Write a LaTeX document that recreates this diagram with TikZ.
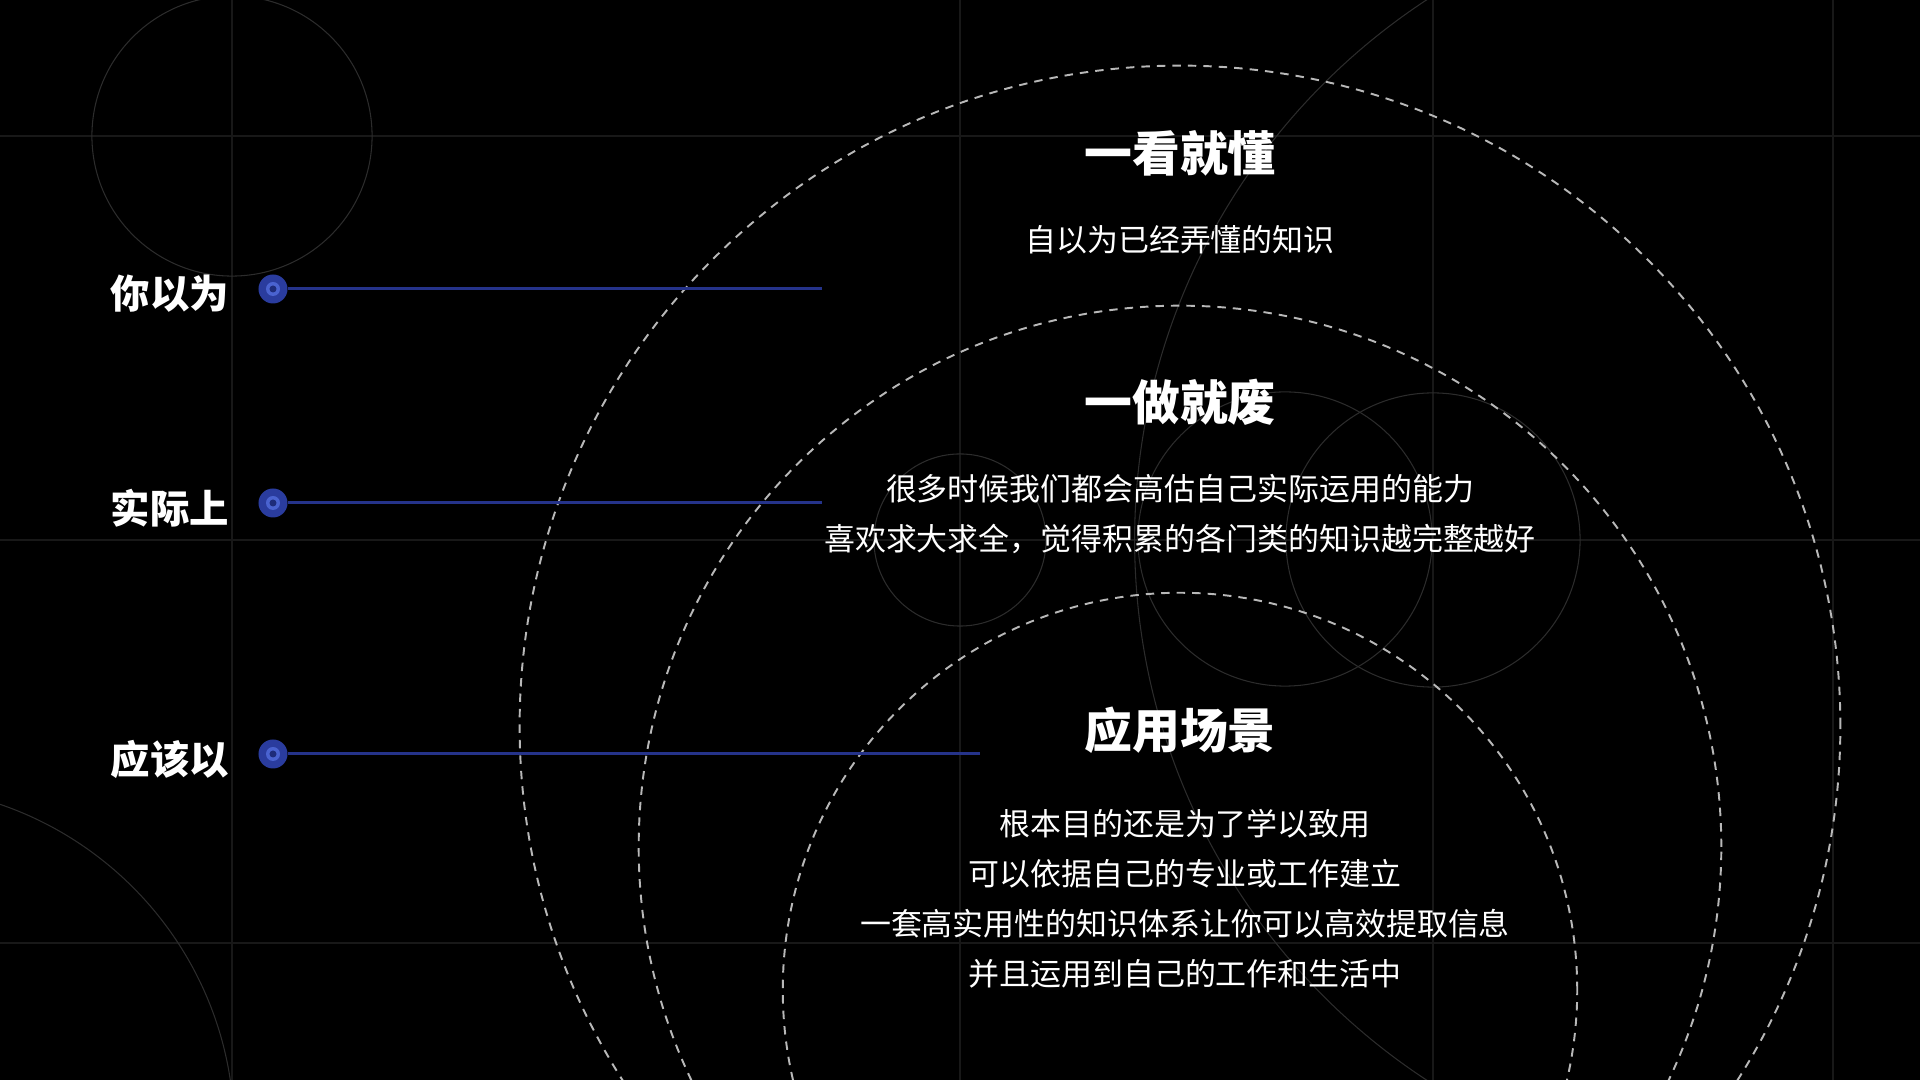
\documentclass[tikz,border=0pt]{standalone}
\usepackage{fontspec}
\setmainfont{Noto Sans CJK SC}
\usepackage{xcolor}
\definecolor{PageBg}{HTML}{000000}
\definecolor{GridLine}{HTML}{181818}
\definecolor{FaintRing}{HTML}{2C2C2C}
\definecolor{DashRing}{HTML}{B8B8B8}
\definecolor{BarBlue}{HTML}{25338A}
\definecolor{DotOuter}{HTML}{2A3C9E}
\definecolor{DotRing}{HTML}{4A63D0}
\definecolor{DotCore}{HTML}{1E2C7A}
\usepackage{tikz}
\usetikzlibrary{positioning}

\begin{document}
\begin{tikzpicture}[x=0.01cm, y=-0.01cm, node distance=0.28cm,
  every node/.style={text=white, align=center, inner sep=0pt},
  side/.style={font=\fontsize{11.2}{13}\selectfont\bfseries, yshift=-0.05cm},
  head/.style={font=\fontsize{13.6}{17}\selectfont\bfseries},
  body/.style={font=\fontsize{8.8}{14.2}\selectfont},
  gridline/.style={draw=GridLine, line width=0.4pt},
  faint/.style={draw=FaintRing, line width=0.3pt},
  ring/.style={draw=DashRing, line width=0.55pt, dash pattern=on 2.4pt off 2pt},
  bar/.style={draw=BarBlue, line width=0.85pt},
  bulletdot/.style={circle, fill=DotOuter, minimum size=0.29cm}]
  \fill[PageBg] (0,0) rectangle (1920,1080);
  \clip (0,0) rectangle (1920,1080);
  % background grid
  \draw[gridline] (0,136) -- (1920,136);
  \draw[gridline] (0,540) -- (1920,540);
  \draw[gridline] (0,943) -- (1920,943);
  \draw[gridline] (232,0) -- (232,1080);
  \draw[gridline] (960,0) -- (960,1080);
  \draw[gridline] (1433,0) -- (1433,1080);
  \draw[gridline] (1833,0) -- (1833,1080);
  % thin circles
  \draw[faint] (232,136) circle (1.40cm);
  \draw[faint] (-112,1132) circle (3.46cm);
  \draw[faint] (1780,540) circle (6.45cm);
  \draw[faint] (960,540) circle (0.86cm);
  \draw[faint] (1285,539) circle (1.47cm);
  \draw[faint] (1433,540) circle (1.47cm);
  % dashed rings
  \draw[ring] (1180,726) circle (6.60cm);
  \draw[ring] (1180,847) circle (5.41cm);
  \draw[ring] (1180,990) circle (3.97cm);

  % left rows
  \node[bulletdot] (dotA) at (273,289) {};
  \node[bulletdot] (dotB) at (273,503) {};
  \node[bulletdot] (dotC) at (273,754) {};
  \node[side, left=of dotA] (thinkA) {你以为};
  \node[side, left=of dotB] (thinkB) {实际上};
  \node[side, left=of dotC] (thinkC) {应该以};
  \coordinate (endA) at (822,289);
  \coordinate (endB) at (822,503);
  \coordinate (endC) at (980,754);
  \draw[bar] (dotA) -- (endA);
  \draw[bar] (dotB) -- (endB);
  \draw[bar] (dotC) -- (endC);
  \fill[DotRing] (dotA) circle (0.07cm);
  \fill[DotRing] (dotB) circle (0.07cm);
  \fill[DotRing] (dotC) circle (0.07cm);
  \fill[DotCore] (dotA) circle (0.035cm);
  \fill[DotCore] (dotB) circle (0.035cm);
  \fill[DotCore] (dotC) circle (0.035cm);

  % right texts
  \node[head] (seeA) at (1180,153) {一看就懂};
  \node[body, below=0.48cm of seeA] (noteA) {自以为已经弄懂的知识};
  \node[head] (doB) at (1180,402) {一做就废};
  \node[body, below=0.48cm of doB] (noteB) {很多时候我们都会高估自己实际运用的能力\\喜欢求大求全，觉得积累的各门类的知识越完整越好};
  \node[head] (useC) at (1180,730) {应用场景};
  \node[body, below=0.55cm of useC, xshift=0.05cm] (noteC) {根本目的还是为了学以致用\\可以依据自己的专业或工作建立\\一套高实用性的知识体系让你可以高效提取信息\\并且运用到自己的工作和生活中};
\end{tikzpicture}
\end{document}
